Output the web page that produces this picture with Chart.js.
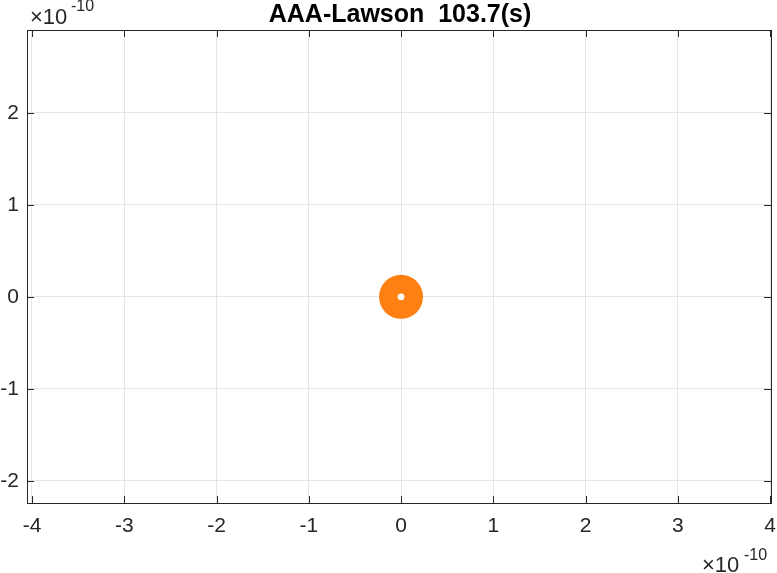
<!DOCTYPE html>
<html>
<head>
<meta charset="utf-8">
<script src="https://cdn.jsdelivr.net/npm/chart.js@4"></script>
<style>
  html, body { margin: 0; padding: 0; background: #fff; }
  #wrap { width: 777px; height: 573px; }
</style>
</head>
<body>
<div id="wrap"><canvas id="c" width="777" height="573"></canvas></div>
<script>
const TITLE = "AAA-Lawson  103.7(s)";
const EXPONENT = "-10";
// values in units of 1e-10
const xTicks = [-4, -3, -2, -1, 0, 1, 2, 3, 4];
const yTicks = [-2, -1, 0, 1, 2];
const xLimits = [-4.054, 4.01];
const yLimits = [-2.24, 2.9];
const pointX = [0];
const pointY = [0];

const FONT = "'Liberation Sans', Arial, sans-serif";

// box, inward tick marks, exponent labels, title
const matlabAxes = {
  id: "matlabAxes",
  afterDraw(chart) {
    const ctx = chart.ctx;
    const a = chart.chartArea;
    const xs = chart.scales.x, ys = chart.scales.y;
    ctx.save();
    ctx.strokeStyle = "#262626";
    ctx.lineWidth = 1;
    ctx.beginPath();
    xTicks.forEach((v) => {
      const px = Math.round(xs.getPixelForValue(v)) + 0.5;
      ctx.moveTo(px, a.bottom); ctx.lineTo(px, a.bottom - 7);
      ctx.moveTo(px, a.top); ctx.lineTo(px, a.top + 7);
    });
    yTicks.forEach((v) => {
      const py = Math.round(ys.getPixelForValue(v)) + 0.5;
      ctx.moveTo(a.left, py); ctx.lineTo(a.left + 7, py);
      ctx.moveTo(a.right, py); ctx.lineTo(a.right - 7, py);
    });
    ctx.stroke();
    ctx.strokeRect(Math.round(a.left) + 0.5, Math.round(a.top) + 0.5,
      Math.round(a.right - a.left), Math.round(a.bottom - a.top));

    ctx.fillStyle = "#262626";
    ctx.textBaseline = "alphabetic";
    ctx.textAlign = "left";
    // top-left exponent
    ctx.font = "22px " + FONT;
    ctx.fillText("\u00d710", 30, 24);
    ctx.font = "16px " + FONT;
    ctx.fillText(EXPONENT, 71, 11);
    // bottom-right exponent
    ctx.font = "22px " + FONT;
    ctx.fillText("\u00d710", 702, 572);
    ctx.font = "16px " + FONT;
    ctx.fillText(EXPONENT, 744, 560);

    // title
    ctx.fillStyle = "#000";
    ctx.textAlign = "center";
    ctx.font = "bold 25px " + FONT;
    ctx.fillText(TITLE, 400, 22);
    ctx.restore();
  }
};

new Chart(document.getElementById("c"), {
  type: "scatter",
  data: {
    datasets: [
      {
        data: pointX.map((x, i) => ({ x, y: pointY[i] })),
        backgroundColor: "#ffffff",
        borderWidth: 0,
        pointRadius: 3.4,
        pointHoverRadius: 3.4,
        order: 0
      },
      {
        data: pointX.map((x, i) => ({ x, y: pointY[i] })),
        backgroundColor: "#ff8012",
        borderWidth: 0,
        pointRadius: 22,
        pointHoverRadius: 22,
        order: 1
      }
    ]
  },
  options: {
    responsive: false,
    animation: false,
    events: [],
    layout: { autoPadding: false, padding: { top: 30, right: 6, left: 0, bottom: 0 } },
    plugins: { legend: { display: false }, tooltip: { enabled: false }, title: { display: false } },
    scales: {
      x: {
        type: "linear",
        min: xLimits[0],
        max: xLimits[1],
        afterBuildTicks: (s) => { s.ticks = xTicks.map((v) => ({ value: v })); },
        afterFit: (s) => { s.height = 70; s.paddingLeft = 0; s.paddingRight = 0; },
        grid: { color: "#e6e6e6", drawTicks: false },
        border: { display: false },
        ticks: {
          color: "#262626",
          font: { family: FONT, size: 21 },
          padding: 11,
          maxRotation: 0,
          callback: (v) => String(v)
        }
      },
      y: {
        type: "linear",
        min: yLimits[0],
        max: yLimits[1],
        afterBuildTicks: (s) => { s.ticks = yTicks.map((v) => ({ value: v })); },
        afterFit: (s) => { s.width = 27; s.paddingTop = 0; s.paddingBottom = 0; },
        grid: { color: "#e6e6e6", drawTicks: false },
        border: { display: false },
        ticks: {
          color: "#262626",
          font: { family: FONT, size: 21 },
          padding: 8,
          callback: (v) => String(v)
        }
      }
    }
  },
  plugins: [matlabAxes]
});
</script>
</body>
</html>
